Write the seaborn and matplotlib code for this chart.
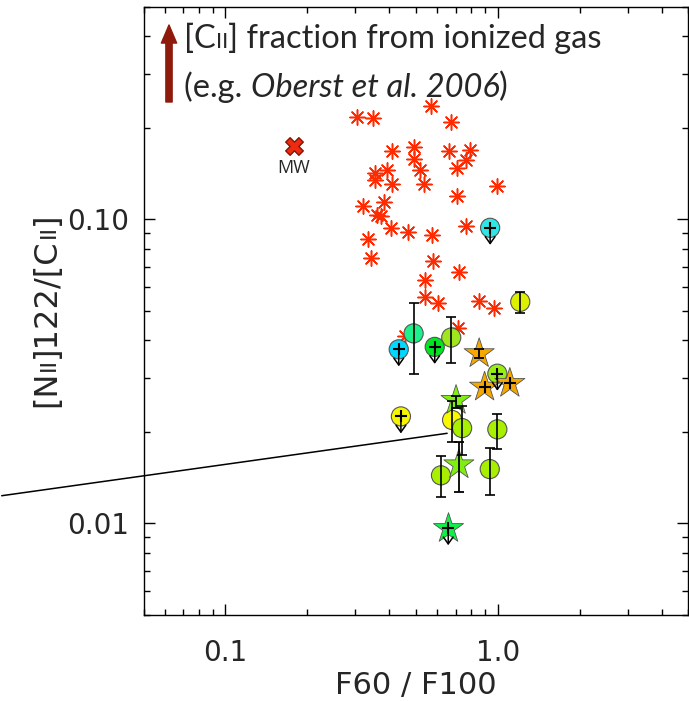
import numpy as np
import pandas as pd
import matplotlib
matplotlib.use("Agg")
import matplotlib.pyplot as plt
import seaborn as sns
from matplotlib.transforms import offset_copy, IdentityTransform
from matplotlib.offsetbox import TextArea, HPacker, VPacker, AnchoredOffsetbox
from matplotlib.ticker import FixedLocator, FixedFormatter, LogLocator, NullFormatter

# --- data -------------------------------------------------------------
# comparison sample (red asterisks)
ast_x = [0.571, 0.305, 0.348, 0.671, 0.408, 0.491, 0.491, 0.662, 0.789, 0.765,
         0.709, 0.517, 0.537, 0.392, 0.353, 0.355, 0.408, 0.992, 0.709, 0.321,
         0.381, 0.361, 0.373, 0.404, 0.470, 0.575, 0.767, 0.334, 0.342, 0.580,
         0.720, 0.540, 0.540, 0.604, 0.851, 0.969, 0.714, 0.456]
ast_y = [0.236, 0.2176, 0.216, 0.2085, 0.168, 0.173, 0.1586, 0.1676, 0.1698, 0.1565,
         0.1477, 0.145, 0.1312, 0.145, 0.142, 0.1345, 0.1312, 0.1288, 0.1197, 0.1106,
         0.114, 0.1036, 0.1023, 0.0939, 0.0908, 0.0892, 0.095, 0.0864, 0.0747, 0.0732,
         0.0673, 0.0632, 0.0554, 0.0531, 0.0538, 0.0511, 0.0441, 0.0414]

# Milky Way
mw_x = [0.178]
mw_y = [0.175]

# circles with error bars
circ_x = [1.21, 0.491, 0.675, 0.68, 0.74, 0.997, 0.619, 0.935]
circ_y = [0.0536, 0.0422, 0.0409, 0.0219, 0.0206, 0.0204, 0.0144, 0.0151]
circ_lo = [0.0492, 0.0310, 0.0337, 0.01855, 0.01685, 0.01764, 0.01219, 0.01244]
circ_hi = [0.0579, 0.0533, 0.0476, 0.0253, 0.0243, 0.0230, 0.01664, 0.01772]
circ_col = ['#dcf000', '#1ef08c', '#a0e61e', '#f8f800', '#a8f000', '#a8f000',
            '#a8f000', '#a8f000']

# circles, upper limits
ulc_x = [0.938, 0.433, 0.587, 0.997, 0.441]
ulc_y = [0.0939, 0.0374, 0.0381, 0.0311, 0.0225]
ulc_col = ['#2ee6e6', '#00d8ff', '#00e620', '#96ee14', '#f5f500']

# stars with error bars
star_x = [0.855, 0.703, 0.720]
star_y = [0.0362, 0.0254, 0.0156]
star_lo = [0.0349, 0.0240, 0.01266]
star_hi = [0.0376, 0.02625, 0.01855]
star_col = ['#f5a800', '#80ee10', '#80ee10']

# stars with cross
starc_x = [0.895, 1.108]
starc_y = [0.0281, 0.0289]
starc_col = ['#f5a800', '#f5a800']

# stars, upper limits
uls_x = [0.658]
uls_y = [0.00965]
uls_col = ['#10f048']

# line
line_x = [0.01507, 0.652]
line_y = [0.01234, 0.0198]

# --- figure -----------------------------------------------------------
sns.set_style("ticks")
plt.rcParams['font.family'] = ['DejaVu Sans']

W, H = 689, 701
fig = plt.figure(figsize=(W / 100, H / 100), dpi=100)
ax = fig.add_axes([143.5 / W, 1 - 615 / H, (688 - 143.5) / W, (615 - 7) / H])
ax.set_xscale('log')
ax.set_yscale('log')


def pts(x, y, colors, marker, s, lw=0.8, ec='#555555', z=3):
    d = pd.DataFrame({'x': x, 'y': y, 'k': [str(i) for i in range(len(x))]})
    sns.scatterplot(data=d, x='x', y='y', hue='k', palette=list(colors),
                    marker=marker, s=s, edgecolor=ec, linewidth=lw,
                    legend=False, ax=ax, zorder=z)


ax.plot(line_x, line_y, color='k', lw=1.1, clip_on=False, zorder=2)

d_ast = pd.DataFrame({'x': ast_x, 'y': ast_y})
sns.scatterplot(data=d_ast, x='x', y='y', marker=(8, 2, 0), s=120,
                color='#ff2a00', linewidth=1.1, ax=ax, zorder=2)

sns.scatterplot(x=mw_x, y=mw_y, marker='X', s=160, color='#ee2a10',
                edgecolor='#8a1000', linewidth=1.0, ax=ax, zorder=3)
ax.annotate('MW', (mw_x[0], mw_y[0]), xytext=(0, -16), textcoords='offset points',
            ha='center', va='center', fontsize=13, family=['Open Sans', 'DejaVu Sans'])

pts(circ_x, circ_y, circ_col, 'o', 190)
pts(ulc_x, ulc_y, ulc_col, 'o', 190)
pts(star_x, star_y, star_col, '*', 520, lw=0.6)
pts(starc_x, starc_y, starc_col, '*', 520, lw=0.6)
pts(uls_x, uls_y, uls_col, '*', 520, lw=0.6)

cy = np.array(circ_y)
ax.errorbar(circ_x, circ_y, yerr=[cy - np.array(circ_lo), np.array(circ_hi) - cy],
            fmt='none', ecolor='k', elinewidth=1.2, capsize=3.5, capthick=1.2, zorder=5)
sy = np.array(star_y)
ax.errorbar(star_x, star_y, yerr=[sy - np.array(star_lo), np.array(star_hi) - sy],
            fmt='none', ecolor='k', elinewidth=1.3, capsize=3.5, capthick=1.3, zorder=5)

cross_x = ulc_x + starc_x + uls_x
cross_y = ulc_y + starc_y + uls_y
sns.scatterplot(x=cross_x, y=cross_y, marker='+', s=80, color='k',
                linewidth=1.5, ax=ax, zorder=6)

down = offset_copy(ax.transData, fig=fig, y=-17, units='dots')
for x, y in zip(ulc_x + uls_x, ulc_y + uls_y):
    ax.annotate('', xy=(x, y), xycoords=down, xytext=(x, y), textcoords='data',
                arrowprops=dict(arrowstyle='->,head_length=0.35,head_width=0.25',
                                lw=1.1, color='k', shrinkA=0, shrinkB=0,
                                mutation_scale=14), zorder=6)

# axes and ticks
ax.set_xlim(0.05, 5)
ax.set_ylim(0.005, 0.5)
ax.xaxis.set_major_locator(FixedLocator([0.1, 1.0]))
ax.xaxis.set_major_formatter(FixedFormatter(['0.1', '1.0']))
ax.yaxis.set_major_locator(FixedLocator([0.01, 0.1]))
ax.yaxis.set_major_formatter(FixedFormatter(['0.01', '0.10']))
for a in (ax.xaxis, ax.yaxis):
    a.set_minor_locator(LogLocator(base=10, subs=np.arange(2, 10), numticks=20))
    a.set_minor_formatter(NullFormatter())
ax.tick_params(which='both', direction='in', top=True, right=True, width=1, color='k')
ax.tick_params(which='major', length=8, labelsize=20)
ax.tick_params(which='minor', length=4)
ax.tick_params(axis='y', pad=10)
ax.tick_params(axis='x', pad=17)
for sp in ax.spines.values():
    sp.set_linewidth(1.0)
    sp.set_color('k')
ax.set_xlabel('F60 / F100', fontsize=22, labelpad=3)
ax.set_ylabel('')

# y label with small-cap II
r = fig.canvas.get_renderer()
pieces = [('[N', 23), ('II', 16), (']122/[C', 23), ('II', 16), (']', 23)]
texts = [fig.text(0, 0, s, fontsize=fs, rotation=90, rotation_mode='anchor',
                  ha='left', va='baseline', transform=IdentityTransform())
         for s, fs in pieces]
lens = [t.get_window_extent(r).height for t in texts]
yy = H - 310 - sum(lens) / 2
for t, l in zip(texts, lens):
    t.set_position((55, yy))
    yy += l

# annotation with arrow
ax.annotate('', xy=(169 / W, 1 - 25 / H), xycoords='figure fraction',
            xytext=(169 / W, 1 - 102 / H), textcoords='figure fraction',
            arrowprops=dict(width=4.5, headwidth=11, headlength=13,
                            color='#8e1a0c', shrink=0))
fam = ['Lato', 'DejaVu Sans']
big, small = 23.5, 16
line1 = HPacker(children=[
    TextArea('[C', textprops=dict(fontsize=big, family=fam)),
    TextArea('II', textprops=dict(fontsize=small, family=fam)),
    TextArea('] fraction from ionized gas', textprops=dict(fontsize=big, family=fam)),
], align='baseline', pad=0, sep=0)
line2 = HPacker(children=[
    TextArea('(e.g. ', textprops=dict(fontsize=big, family=fam)),
    TextArea('Oberst et al. 2006', textprops=dict(fontsize=big, family=fam, style='italic')),
    TextArea(')', textprops=dict(fontsize=big, family=fam)),
], align='baseline', pad=0, sep=0)
box = VPacker(children=[line1, line2], align='left', pad=0, sep=12)
ab = AnchoredOffsetbox(loc='upper left', child=box, pad=0, borderpad=0, frameon=False,
                       bbox_to_anchor=(184 / W, 1 - 23 / H),
                       bbox_transform=fig.transFigure)
ax.add_artist(ab)

fig.savefig('out.png', dpi=100)
